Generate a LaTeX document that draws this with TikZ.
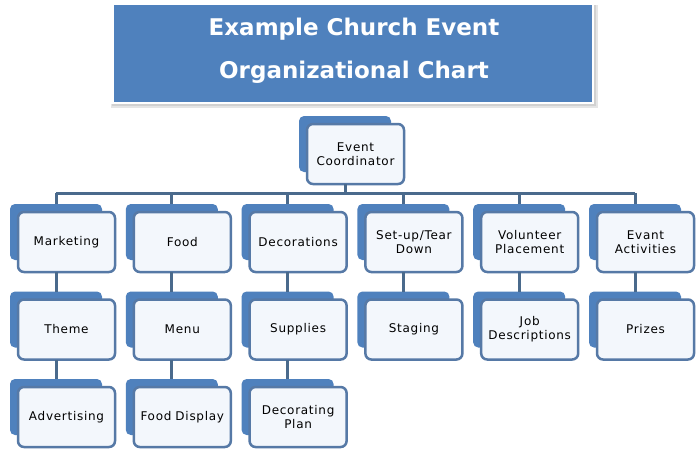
\documentclass[tikz,border=0pt]{standalone}
\usepackage{fontspec}
\setmainfont{DejaVu Sans}
\newfontfamily\cardfont[LetterSpace=6]{DejaVu Sans}
\definecolor{cardblue}{HTML}{4F81BD}
\definecolor{cardedge}{HTML}{5679A6}
\definecolor{cardfill}{HTML}{F3F7FC}
\definecolor{conncol}{HTML}{4A6A8C}
\tikzset{
  backcard/.style={fill=cardblue, rounded corners=5pt, minimum width=92pt, minimum height=56pt, inner sep=0pt, outer sep=0pt, anchor=north west},
  frontcard/.style={fill=cardfill, draw=cardedge, line width=2.5pt, rounded corners=6pt, minimum width=97pt, minimum height=60pt, inner sep=0pt, outer sep=0pt, anchor=north west, align=center, text width=92pt, font=\cardfont\fontsize{12}{14}\selectfont},
  conn/.style={draw=conncol, line width=3pt},
  titletext/.style={text=white, font=\fontsize{23}{27}\selectfont\bfseries, anchor=base, inner sep=0pt}
}
\newcommand\orgcard[4]{%
  \node[backcard] (#1b) at (#2-8,#3-8) {};
  \node[frontcard] (#1) at (#2,#3) {#4};}
\begin{document}
\begin{tikzpicture}[x=1pt,y=-1pt]
\useasboundingbox (0,0) rectangle (700,459);
\fill[white] (0,0) rectangle (700,459);
% banner
\fill[black!10] (111,5) rectangle (598,108);
\fill[black!18] (112,5) rectangle (596,106);
\node[fill=white, minimum width=484pt, minimum height=101pt, inner sep=0pt, anchor=north west] (frame) at (110,3) {};
\node[fill=cardblue, minimum width=478pt, minimum height=97pt, inner sep=0pt, anchor=north west] (banner) at (114,5) {};
\node[titletext] (t1) at (354,35) {Example Church Event};
\node[titletext] (t2) at (354,78) {Organizational Chart};
% cards
\orgcard{ec}{307}{124}{Event\\Coordinator}
\orgcard{aa}{18}{212}{Marketing}
\orgcard{ab}{18}{299.5}{Theme}
\orgcard{ac}{18}{387}{Advertising}
\orgcard{ba}{133.8}{212}{Food}
\orgcard{bb}{133.8}{299.5}{Menu}
\orgcard{bc}{133.8}{387}{Food Display}
\orgcard{ca}{249.6}{212}{Decorations}
\orgcard{cb}{249.6}{299.5}{Supplies}
\orgcard{cc}{249.6}{387}{Decorating\\Plan}
\orgcard{da}{365.4}{212}{Set-up/Tear\\Down}
\orgcard{db}{365.4}{299.5}{Staging}
\orgcard{ea}{481.2}{212}{Volunteer\\Placement}
\orgcard{eb}{481.2}{299.5}{Job\\Descriptions}
\orgcard{fa}{597}{212}{Evant\\Activities}
\orgcard{fb}{597}{299.5}{Prizes}
% connectors
\coordinate (bar) at (0,193);
\draw[conn] (ecb.center |- ec.south) -- (ecb.center |- bar);
\draw[conn] (aab.north |- bar) -- (fab.north |- bar);
\foreach \c in {aa,ba,ca,da,ea,fa}{\draw[conn] (\c b.north |- bar) -- (\c b.north);}
\draw[conn] (aab.north |- aa.south) -- (abb.north);
\draw[conn] (abb.north |- ab.south) -- (acb.north);
\draw[conn] (bab.north |- ba.south) -- (bbb.north);
\draw[conn] (bbb.north |- bb.south) -- (bcb.north);
\draw[conn] (cab.north |- ca.south) -- (cbb.north);
\draw[conn] (cbb.north |- cb.south) -- (ccb.north);
\draw[conn] (dab.north |- da.south) -- (dbb.north);
\draw[conn] (eab.north |- ea.south) -- (ebb.north);
\draw[conn] (fab.north |- fa.south) -- (fbb.north);
\end{tikzpicture}
\end{document}
